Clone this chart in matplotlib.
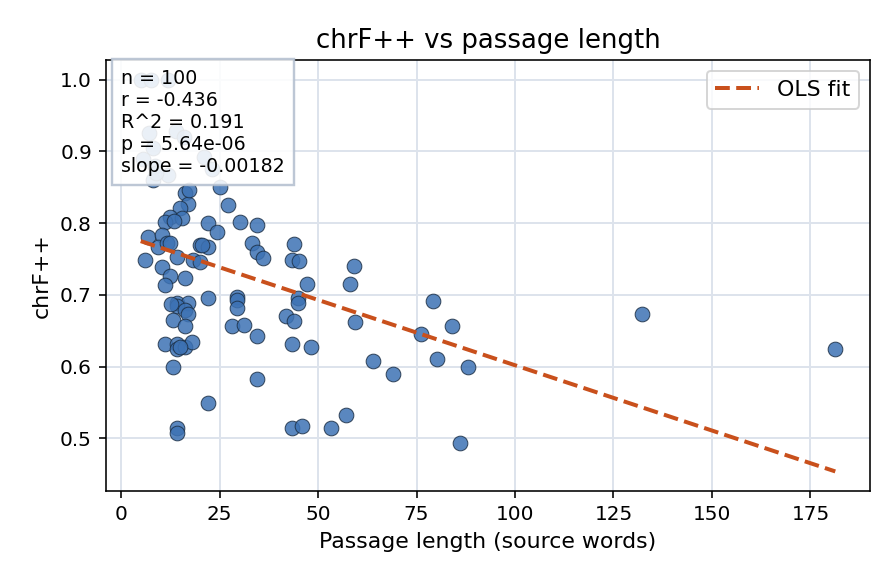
import numpy as np
import matplotlib
matplotlib.use("Agg")
import matplotlib.pyplot as plt

# Data
passage_len = [
    5, 7.5, 12, 7, 14, 16, 8, 21, 5.5, 23, 8.5, 12, 8,
    16.2, 17, 15, 12.4, 15.4, 11.1, 22, 25, 27.1, 30.1, 34.4, 24.3,
    6.8, 10.4, 9.4, 11.6, 12.4, 20, 22, 33.2, 34.4, 36, 44,
    6.1, 14.2, 18.2, 20, 43.3, 45.3, 10.4, 12.4, 16.2, 11.1, 47.1,
    22, 29.4, 29.4, 14.2, 17, 14.2, 16.2, 45, 45, 29.4, 17, 13.2,
    16.2, 28.1, 31.1, 42, 44, 34.4, 11.1, 14.2, 14.2, 16.2, 18,
    43.3, 48.1, 13.2, 34.4, 22, 14.2, 14.2, 43.3, 46, 53.2, 57.2,
    59.2, 58.2, 59.5, 64, 69.1, 76.2, 79.2, 84.1, 80.3, 88.1, 86.1,
    132.2, 181.3, 17.2, 13.5, 12.6, 15, 20.5, 9,
]
chrf = [
    1.0, 1.0, 1.0, 0.925, 0.928, 0.92, 0.905, 0.892, 0.89, 0.876, 0.88, 0.867, 0.86,
    0.842, 0.826, 0.821, 0.809, 0.807, 0.801, 0.80, 0.851, 0.825, 0.801, 0.797, 0.787,
    0.781, 0.783, 0.767, 0.772, 0.772, 0.769, 0.767, 0.772, 0.76, 0.751, 0.771,
    0.749, 0.753, 0.749, 0.746, 0.749, 0.747, 0.739, 0.726, 0.724, 0.714, 0.715,
    0.696, 0.697, 0.693, 0.689, 0.689, 0.684, 0.679, 0.696, 0.689, 0.682, 0.673, 0.665,
    0.656, 0.657, 0.658, 0.671, 0.664, 0.643, 0.631, 0.631, 0.624, 0.628, 0.635,
    0.631, 0.628, 0.599, 0.583, 0.55, 0.515, 0.508, 0.514, 0.518, 0.515, 0.532,
    0.74, 0.715, 0.662, 0.608, 0.590, 0.646, 0.692, 0.656, 0.611, 0.60, 0.493,
    0.674, 0.624, 0.846, 0.803, 0.687, 0.628, 0.77, 0.87,
]
fit_slope = -0.00182
fit_intercept = 0.784
stats_lines = ["n = 100", "r = -0.436", "R^2 = 0.191", "p = 5.64e-06", "slope = -0.00182"]

x = np.array(passage_len)
y = np.array(chrf)

DPI = 144
fig = plt.figure(figsize=(896 / DPI, 584 / DPI), dpi=DPI)
ax = fig.add_axes([0.1183, 0.1592, 0.9710 - 0.1183, 0.8973 - 0.1592])

ax.grid(True, color="#dde3ec", linewidth=1.0, zorder=0)
ax.set_axisbelow(True)

ax.scatter(x, y, s=54, color="#3d72b4", alpha=0.85, edgecolors="#1c2f45",
           linewidths=0.5, zorder=3)

xs = np.array([x.min(), x.max()])
ax.plot(xs, fit_intercept + fit_slope * xs, linestyle="--", color="#c9501c",
        linewidth=2, label="OLS fit", zorder=4)

ax.set_title("chrF++ vs passage length", fontsize=13)
ax.set_xlabel("Passage length (source words)", fontsize=11)
ax.set_ylabel("chrF++", fontsize=11)
ax.tick_params(labelsize=10)
ax.set_xticks([0, 25, 50, 75, 100, 125, 150, 175])
ax.set_yticks([0.5, 0.6, 0.7, 0.8, 0.9, 1.0])

ax.text(0.02, 0.98, "\n".join(stats_lines), transform=ax.transAxes,
        fontsize=9.5, va="top", ha="left", zorder=6,
        bbox=dict(boxstyle="square,pad=0.5", facecolor="white", alpha=0.88,
                  edgecolor="#b4c0d0", linewidth=1.2))

ax.legend(loc="upper right", fontsize=11, handlelength=2.0)

fig.savefig("out.png", dpi=DPI)
